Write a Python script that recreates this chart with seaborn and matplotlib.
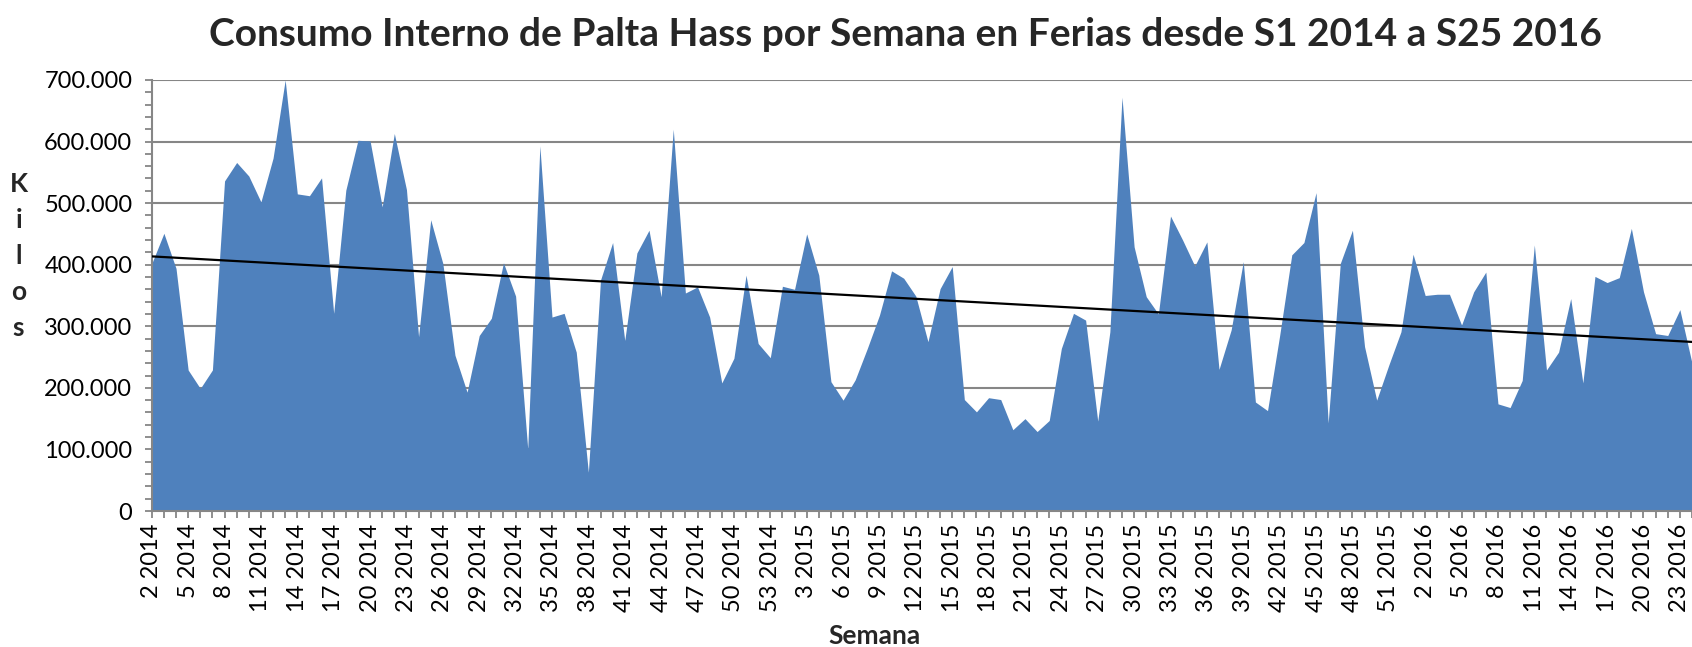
import numpy as np
import pandas as pd
import seaborn as sns
import matplotlib.pyplot as plt
from matplotlib.ticker import MultipleLocator, FuncFormatter

# Weeks shown on the x axis (year, weeks)
weeks_2014 = list(range(2, 54))
weeks_2015 = list(range(1, 53))
weeks_2016 = list(range(1, 25))

# Weekly consumption in kilos
kilos = [
    402000, 451000, 394000, 229000, 199000, 229000, 536000, 566000, 544000, 502000,
    573000, 700000, 515000, 512000, 541000, 321000, 521000, 602000, 601000, 494000,
    613000, 522000,
    283000, 473000, 402000, 253000, 193000, 285000, 313000, 403000, 349000, 101000,
    593000, 315000, 321000, 258000, 63000, 375000, 436000, 277000, 419000, 456000,
    348000,
    620000, 354000, 364000, 315000, 208000, 248000, 383000, 272000, 249000, 365000,
    360000, 450000, 383000, 210000, 180000, 213000, 264000, 318000, 390000, 378000,
    349000,
    275000, 361000, 397000, 181000, 161000, 184000, 181000, 132000, 150000, 129000,
    147000, 264000, 321000, 310000, 146000, 291000, 672000, 429000, 348000, 320000,
    479000,
    440000, 398000, 437000, 230000, 294000, 405000, 177000, 163000, 285000, 416000,
    436000, 517000, 143000, 402000, 456000, 267000, 180000, 237000, 291000, 417000,
    350000,
    352000, 352000, 302000, 356000, 388000, 174000, 168000, 212000, 432000, 229000,
    258000, 345000, 208000, 381000, 371000, 379000, 459000, 356000, 288000, 285000,
    327000, 240000,
]

week_labels = ([f"{w} 2014" for w in weeks_2014] +
               [f"{w} 2015" for w in weeks_2015] +
               [f"{w} 2016" for w in weeks_2016])

df = pd.DataFrame({"idx": np.arange(len(kilos)), "kilos": kilos, "semana": week_labels})

sns.set_style("white")
plt.rcParams['font.family'] = ['Lato', 'DejaVu Sans']

fig = plt.figure(figsize=(16.92, 6.47), dpi=100)
ax = fig.add_axes([0.0897, 0.2102, 0.9103, 0.6662])

grey = '#868686'

# area
ax.fill_between(df["idx"], df["kilos"], color="#4F81BD", linewidth=0, zorder=2)

# linear trend line
sns.regplot(data=df, x="idx", y="kilos", scatter=False, ci=None, ax=ax,
            line_kws=dict(color="black", lw=1.6, zorder=3))

ax.set_xlim(0, 126.2)
ax.set_ylim(0, 700000)
ax.set_xlabel("")
ax.set_ylabel("")

# y axis
ax.yaxis.set_major_locator(MultipleLocator(100000))
ax.yaxis.set_minor_locator(MultipleLocator(20000))
ax.yaxis.set_major_formatter(FuncFormatter(lambda v, p: f"{v:,.0f}".replace(",", ".")))
ax.set_axisbelow(True)
ax.yaxis.grid(True, color=grey, lw=1.5)
ax.xaxis.grid(False)

# x axis
ax.set_xticks(df["idx"][::3])
ax.set_xticklabels(df["semana"][::3], rotation=90)
ax.set_xticks(df["idx"], minor=True)

ax.tick_params(axis="both", which="both", length=5, width=1.3, color=grey,
               direction="out", labelsize=17, labelcolor="black")
ax.tick_params(axis="x", which="both", bottom=True, pad=4)
ax.tick_params(axis="y", which="both", left=True, pad=9)

for side in ["top", "right"]:
    ax.spines[side].set_visible(False)
for side in ["left", "bottom"]:
    ax.spines[side].set_color(grey)
    ax.spines[side].set_linewidth(1.5)

fig.text(0.535, 1 - 35 / 647, "Consumo Interno de Palta Hass por Semana en Ferias desde S1 2014 a S25 2016",
         ha="center", va="center", fontsize=28, fontweight="bold")
fig.text(0.011, 0.604, "K\ni\nl\no\ns", ha="center", va="center", fontsize=19,
         fontweight="bold", linespacing=1.6)
fig.text(0.517, 0.017, "Semana", ha="center", va="center", fontsize=19, fontweight="bold")

fig.savefig("out.png", dpi=100)
